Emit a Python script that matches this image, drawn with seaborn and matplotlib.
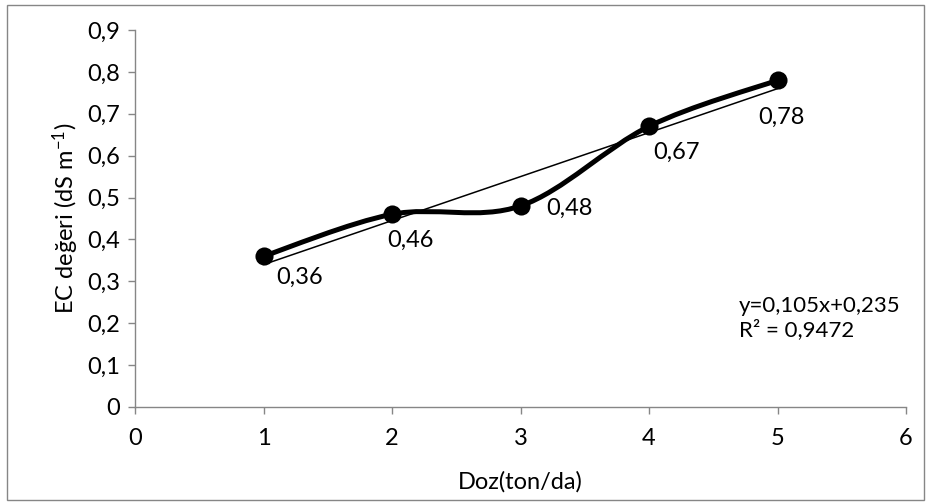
import numpy as np
import pandas as pd
import matplotlib
matplotlib.use("Agg")
import matplotlib.pyplot as plt
from matplotlib.path import Path
from matplotlib.patches import PathPatch, Rectangle
import seaborn as sns

# Data
doses = [1, 2, 3, 4, 5]
ec_values = [0.36, 0.46, 0.48, 0.67, 0.78]
value_labels = ["0,36", "0,46", "0,48", "0,67", "0,78"]
x_ticks = [0, 1, 2, 3, 4, 5, 6]
y_ticks = [0, 0.1, 0.2, 0.3, 0.4, 0.5, 0.6, 0.7, 0.8, 0.9]
y_tick_labels = ["0", "0,1", "0,2", "0,3", "0,4", "0,5", "0,6", "0,7", "0,8", "0,9"]
equation_text = "y=0,105x+0,235\nR² = 0,9472"

sns.set_theme(style="white")
plt.rcParams["font.family"] = ["Lato", "DejaVu Sans"]
plt.rcParams["mathtext.fontset"] = "custom"
plt.rcParams["mathtext.rm"] = "Lato"
plt.rcParams["mathtext.it"] = "Lato:italic"

df = pd.DataFrame({"Doz": doses, "EC": ec_values})

fig = plt.figure(figsize=(9.3, 5.04), dpi=100)
ax = fig.add_axes([0.1452, 0.1925, 0.8290, 0.7480])

# Smoothed line through the points (cubic Bezier segments, Catmull-Rom style)
pts = np.column_stack([doses, ec_values]).astype(float)
verts = [tuple(pts[0])]
codes = [Path.MOVETO]
n = len(pts)
for i in range(n - 1):
    p0 = pts[max(i - 1, 0)]
    p1 = pts[i]
    p2 = pts[i + 1]
    p3 = pts[min(i + 2, n - 1)]
    c1 = p1 + (p2 - p0) / 6.0
    c2 = p2 - (p3 - p1) / 6.0
    verts += [tuple(c1), tuple(c2), tuple(p2)]
    codes += [Path.CURVE4, Path.CURVE4, Path.CURVE4]
curve = PathPatch(Path(verts, codes), facecolor="none", edgecolor="black",
                  lw=3.6, capstyle="round", joinstyle="round", zorder=3)
ax.add_patch(curve)

# Linear trend line
sns.regplot(data=df, x="Doz", y="EC", scatter=False, ci=None, truncate=True,
            line_kws={"color": "black", "lw": 1.1, "zorder": 2}, ax=ax)

# Markers
sns.scatterplot(data=df, x="Doz", y="EC", color="black", s=170,
                edgecolor="black", linewidth=0, zorder=4, ax=ax)

# Value labels
offsets = [(26, -15), (13, -19), (35, -1.5), (20, -19), (3, -27)]
for xv, yv, lab, off in zip(doses, ec_values, value_labels, offsets):
    ax.annotate(lab, (xv, yv), xytext=off, textcoords="offset points",
                ha="center", va="center", fontsize=17, color="black")

ax.text(0.7835, 0.235, equation_text, transform=ax.transAxes, ha="left",
        va="center", fontsize=16, color="black", linespacing=1.2)

ax.set_xlim(0, 6)
ax.set_ylim(0, 0.9)
ax.set_xticks(x_ticks)
ax.set_xticklabels([str(t) for t in x_ticks])
ax.set_yticks(y_ticks)
ax.set_yticklabels(y_tick_labels)
ax.tick_params(axis="both", which="major", direction="out", length=5,
               width=1, color="#868686", labelsize=17, labelcolor="black",
               bottom=True, left=True)
ax.tick_params(axis="x", pad=10)
ax.tick_params(axis="y", pad=6)

for side in ["top", "right"]:
    ax.spines[side].set_visible(False)
for side in ["left", "bottom"]:
    ax.spines[side].set_color("#868686")
    ax.spines[side].set_linewidth(1.0)

ax.set_xlabel("Doz(ton/da)", fontsize=17, color="black", labelpad=16)
ax.set_ylabel("EC değeri (dS m$^{-1}$)", fontsize=17, color="black",
              labelpad=4)

# Chart area border
fig.patches.append(Rectangle((7 / 930, 4 / 504), 917 / 930, 495 / 504,
                             transform=fig.transFigure, fill=False,
                             edgecolor="#868686", lw=1.0))

fig.savefig("out.png", dpi=100, facecolor="white")
